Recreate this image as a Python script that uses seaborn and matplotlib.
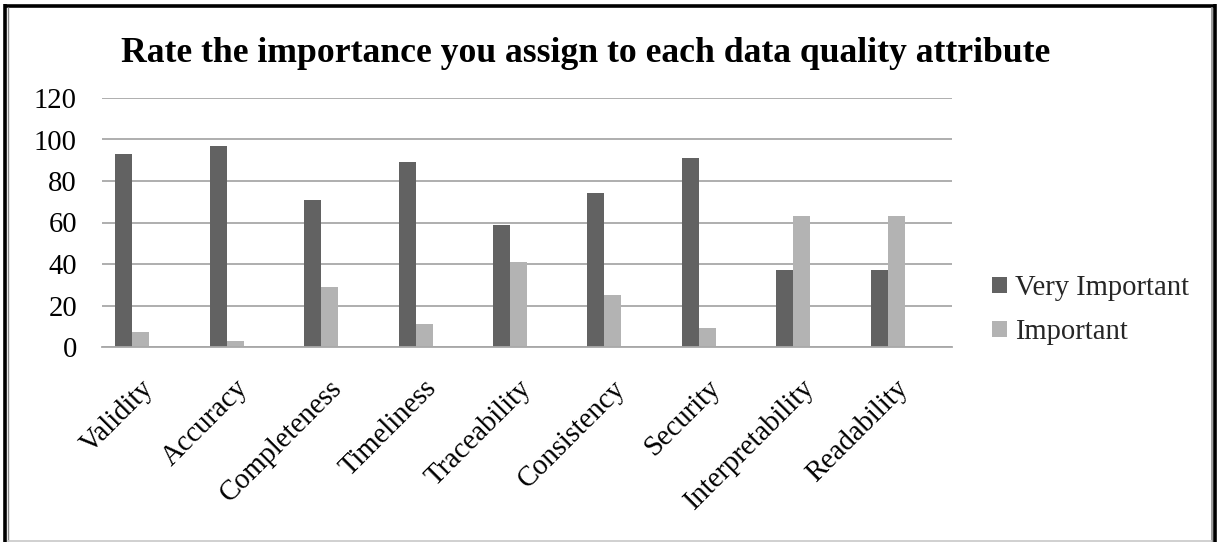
import matplotlib
matplotlib.use("Agg")
import matplotlib.pyplot as plt
import seaborn as sns
import pandas as pd
from matplotlib.lines import Line2D
from matplotlib.transforms import ScaledTranslation

# Survey results: share of respondents per rating, per data quality attribute
attributes = ["Validity", "Accuracy", "Completeness", "Timeliness", "Traceability",
              "Consistency", "Security", "Interpretability", "Readability"]
very_important = [93, 97, 71, 89, 59, 74, 91, 37, 37]
important = [7, 3, 29, 11, 41, 25, 9, 63, 63]
ratings = ["Very Important", "Important"]
y_ticks = [0, 20, 40, 60, 80, 100, 120]
title = "Rate the importance you assign to each data quality attribute"

df = pd.DataFrame({
    "Attribute": attributes * 2,
    "Rating": [ratings[0]] * len(attributes) + [ratings[1]] * len(attributes),
    "Percent": very_important + important,
})

sns.set_theme(style="white")
plt.rcParams["font.family"] = ["Liberation Serif", "DejaVu Serif"]

W, H = 1217, 542
fig = plt.figure(figsize=(W / 100, H / 100), dpi=100)
fig.patch.set_facecolor("white")

# plot area in pixel terms
left, right, top, bottom = 102, 952, 98, 347
ax = fig.add_axes([left / W, 1 - bottom / H, (right - left) / W, (bottom - top) / H])

sns.barplot(data=df, x="Attribute", y="Percent", hue="Rating", hue_order=ratings,
            palette=["#626262", "#b3b3b3"], saturation=1, width=0.36,
            linewidth=0, ax=ax)

ax.set_xlim(-0.32, 8.68)
ax.set_ylim(0, 120)
ax.set_yticks(y_ticks)
ax.set_xlabel("")
ax.set_ylabel("")
ax.yaxis.grid(True, color="#a8a8a8", linewidth=1.3)
ax.set_axisbelow(True)
for s in ["left", "right", "top"]:
    ax.spines[s].set_visible(False)
ax.spines["bottom"].set_color("#a8a8a8")
ax.spines["bottom"].set_linewidth(1.3)

fs = 20.6
ax.tick_params(axis="y", length=0, pad=18, labelsize=fs, labelcolor="black")
ax.tick_params(axis="x", length=0, pad=27, labelsize=fs, labelcolor="black")
shift = ScaledTranslation(17 / 100, 0, fig.dpi_scale_trans)
for lbl in ax.get_xticklabels():
    lbl.set_rotation(45)
    lbl.set_ha("right")
    lbl.set_va("center")
    lbl.set_rotation_mode("anchor")
    lbl.set_transform(lbl.get_transform() + shift)

handles, labels = ax.get_legend_handles_labels()
ax.legend(handles, labels, loc="center left",
          bbox_to_anchor=(978 / W, 1 - 310 / H), bbox_transform=fig.transFigure,
          frameon=False, fontsize=fs, handlelength=0.5, handleheight=0.5,
          handletextpad=0.3, labelspacing=0.62, borderpad=0)

fig.text(586 / W, 1 - 54 / H, title, ha="center", va="center",
         fontsize=25.7, fontweight="bold", color="black")

# outer frame
def fline(x0, y0, x1, y1, color, lw):
    fig.add_artist(Line2D([x0 / W, x1 / W], [1 - y0 / H, 1 - y1 / H],
                          transform=fig.transFigure, color=color, linewidth=lw,
                          solid_capstyle="butt"))

fline(5, 4, 5, 542, "black", 2.6)
fline(3.5, 5.5, 1216, 5.5, "black", 2.6)
fline(1214.5, 4, 1214.5, 542, "black", 2.6)
fline(7.5, 7, 7.5, 542, "#8a8a8a", 1.0)
fline(1212, 7, 1212, 542, "#8a8a8a", 1.2)
fline(7, 541, 1212, 541, "#c8c8c8", 1.2)

fig.savefig("out.png", dpi=100, facecolor="white")
